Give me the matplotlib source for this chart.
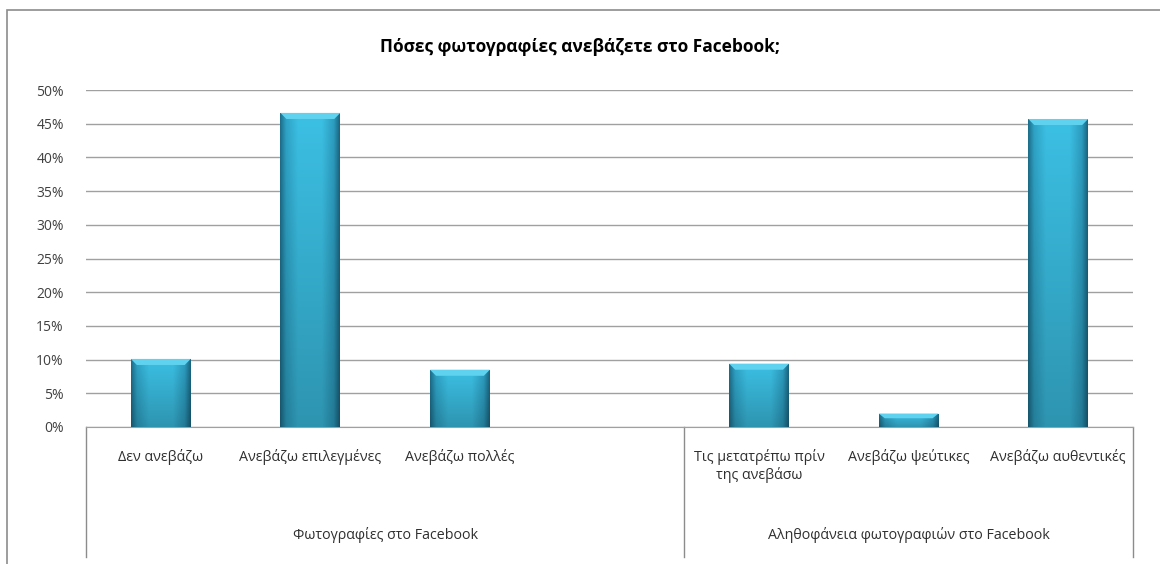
import numpy as np
import matplotlib.pyplot as plt
from matplotlib.patches import Rectangle
from matplotlib.colors import LinearSegmentedColormap

plt.rcParams['font.family'] = ['Open Sans', 'DejaVu Sans']

# data
categories = ['Δεν ανεβάζω', 'Ανεβάζω επιλεγμένες', 'Ανεβάζω πολλές', '',
              'Τις μετατρέπω πρίν\nτης ανεβάσω', 'Ανεβάζω ψεύτικες', 'Ανεβάζω αυθεντικές']
values = [10.1, 46.6, 8.5, np.nan, 9.4, 2.0, 45.7]
groups = ['Φωτογραφίες στο Facebook', 'Αληθοφάνεια φωτογραφιών στο Facebook']
group_sizes = [4, 3]
yticks = [0, 5, 10, 15, 20, 25, 30, 35, 40, 45, 50]
title = 'Πόσες φωτογραφίες ανεβάζετε στο Facebook;'

fig = plt.figure(figsize=(11.6, 5.64), dpi=100)
# outer chart frame
fig.patches.append(Rectangle((7/1160, -0.1), 1.2, 1 - 10/564 + 0.1, transform=fig.transFigure,
                             fill=False, edgecolor='#8c8c8c', linewidth=1.2))

ax = fig.add_axes([86/1160, 1 - 427/564, (1133 - 86)/1160, (427 - 90)/564])
x = np.arange(len(categories))
ax.set_xlim(-0.5, len(categories) - 0.5)
ax.set_ylim(0, 50)

# gridlines
for t in yticks:
    ax.axhline(t, color='#a0a0a0', linewidth=1.0, zorder=0)

bars = ax.bar(x, np.nan_to_num(values), width=0.4, color='#36b0d2', zorder=2)
cmap = LinearSegmentedColormap.from_list(
    'bevel', [(0, '#1b6883'), (0.1, '#2c9abb'), (0.3, '#38b5d7'),
              (0.7, '#38b5d7'), (0.9, '#2a94b5'), (1, '#18607a')])
horiz = cmap(np.linspace(0, 1, 200))[:, :3]
for b, v in zip(bars, values):
    if np.isnan(v) or v <= 0:
        continue
    x0, w, h = b.get_x(), b.get_width(), b.get_height()
    # darken towards the bottom of each bar
    shade = np.linspace(1.06, 0.82, 100).reshape(-1, 1, 1)
    img = np.clip(horiz[None, :, :] * shade, 0, 1)
    im = ax.imshow(img, extent=[x0, x0 + w, 0, h], aspect='auto', origin='upper', zorder=3)
    im.set_clip_path(b)
    # lighter top bevel
    bh = min(0.9, h * 0.35)
    ax.fill([x0, x0 + w, x0 + w - 0.04, x0 + 0.04], [h, h, h - bh, h - bh],
            color='#5fd2f0', zorder=4, linewidth=0)

ax.set_yticks(yticks)
ax.set_yticklabels([f'{t}%' for t in yticks], fontsize=10, color='#404040')
ax.tick_params(axis='y', length=0, pad=16)
ax.set_xticks([])
for s in ['left', 'right', 'top']:
    ax.spines[s].set_visible(False)
ax.spines['bottom'].set_color('#a0a0a0')

# category labels
for xi, lab in zip(x, categories):
    ax.text(xi, -0.065, lab, transform=ax.get_xaxis_transform(), ha='center', va='top',
            fontsize=10.3, color='#303030', linespacing=1.2)

# group separators and labels
trans = ax.get_xaxis_transform()
edges = np.concatenate([[0], np.cumsum(group_sizes)]) - 0.5
for e in edges:
    ax.plot([e, e], [0, -0.385], transform=trans, color='#8c8c8c', linewidth=1.0, clip_on=False)
for i, g in enumerate(groups):
    ax.text((edges[i] + edges[i + 1]) / 2, -0.32, g, transform=trans, ha='center', va='center',
            fontsize=10.3, color='#303030')

fig.text(0.5, 1 - 47/564, title, ha='center', va='center', fontsize=12.5, fontweight='bold', color='black')

fig.savefig('out.png', dpi=100)
